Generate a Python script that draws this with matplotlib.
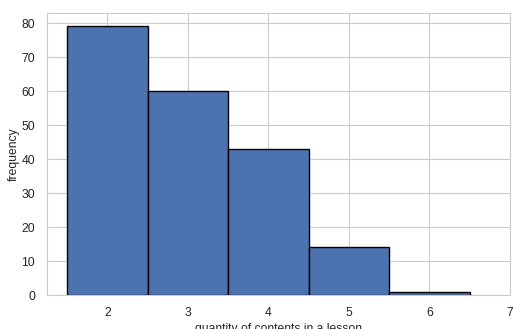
import matplotlib
matplotlib.use("Agg")
import matplotlib.pyplot as plt
import seaborn as sns

sns.set_style("whitegrid")
plt.rcParams['font.family'] = ['Liberation Sans', 'DejaVu Sans']

# contents per lesson and how often they occur
contents = [2, 3, 4, 5, 6]
frequency = [79, 60, 43, 14, 1]

fig = plt.figure(figsize=(5.13, 3.29), dpi=100)
ax = fig.add_axes([0.0916, 0.1033, 0.9024, 0.8572])
ax.bar(contents, frequency, width=1.0, color="#4C72B0",
       edgecolor="black", linewidth=1.0, zorder=2)
ax.set_xlim(1.25, 7)
ax.set_ylim(0, 82.95)
ax.set_xticks([2, 3, 4, 5, 6, 7])
ax.set_yticks(range(0, 81, 10))
ax.tick_params(labelsize=8.7, colors="#262626", pad=5)
ax.set_xlabel("quantity of contents in a lesson", fontsize=8.7, color="#262626", labelpad=3)
ax.set_ylabel("frequency", fontsize=8.7, color="#262626", labelpad=1)
for s in ax.spines.values():
    s.set_color("#cccccc")
fig.savefig("out.png", dpi=100)
